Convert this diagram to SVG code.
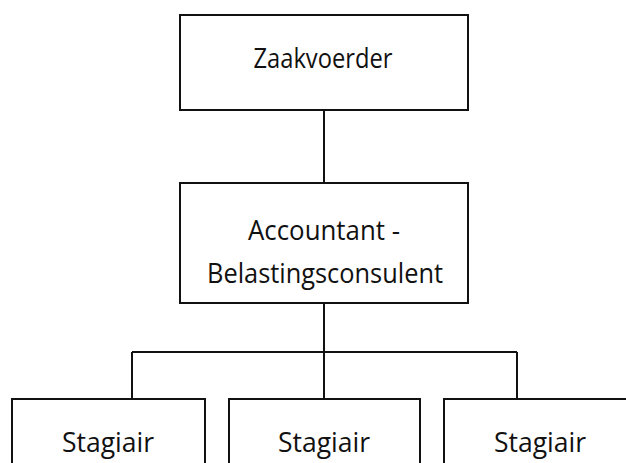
<svg xmlns="http://www.w3.org/2000/svg" width="626" height="463" viewBox="0 0 626 463">
  <style>
    .box { fill: #ffffff; stroke: #111111; stroke-width: 2; }
    .link { fill: none; stroke: #111111; stroke-width: 2; }
    .label { font-family: "Open Sans", "Noto Sans", "Liberation Sans", sans-serif; font-size: 27px; fill: #111111; text-anchor: middle; }
  </style>
  <rect width="626" height="463" fill="#ffffff"/>

  <g id="connectors">
    <path class="link" d="M324 111 V183"/>
    <path class="link" d="M324 303 V352"/>
    <path class="link" d="M132 352 H517"/>
    <path class="link" d="M132 352 V399"/>
    <path class="link" d="M517 352 V399"/>
    <path class="link" d="M324 352 V399"/>
  </g>

  <g id="zaakvoerder">
    <rect class="box" x="180" y="15" width="288" height="95"/>
    <text class="label" x="323" y="68" textLength="139" lengthAdjust="spacingAndGlyphs">Zaakvoerder</text>
  </g>

  <g id="accountant">
    <rect class="box" x="180" y="183" width="288" height="120"/>
    <text class="label" x="324" y="240" textLength="152" lengthAdjust="spacingAndGlyphs">Accountant -</text>
    <text class="label" x="325" y="283" textLength="236" lengthAdjust="spacingAndGlyphs">Belastingsconsulent</text>
  </g>

  <g id="stagiair-1">
    <rect class="box" x="12" y="399" width="193" height="80"/>
    <text class="label" x="108" y="452" textLength="92" lengthAdjust="spacingAndGlyphs">Stagiair</text>
  </g>

  <g id="stagiair-2">
    <rect class="box" x="229" y="399" width="191" height="80"/>
    <text class="label" x="324" y="452" textLength="92" lengthAdjust="spacingAndGlyphs">Stagiair</text>
  </g>

  <g id="stagiair-3">
    <rect class="box" x="444" y="399" width="200" height="80"/>
    <text class="label" x="540" y="452" textLength="92" lengthAdjust="spacingAndGlyphs">Stagiair</text>
  </g>
</svg>
